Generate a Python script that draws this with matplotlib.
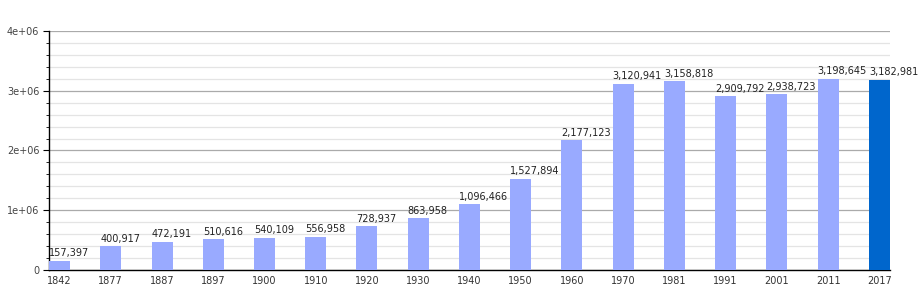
import matplotlib.pyplot as plt
from matplotlib.ticker import MultipleLocator, FuncFormatter

years = ["1842", "1877", "1887", "1897", "1900", "1910", "1920", "1930", "1940",
         "1950", "1960", "1970", "1981", "1991", "2001", "2011", "2017"]
population = [157397, 400917, 472191, 510616, 540109, 556958, 728937, 863958, 1096466,
              1527894, 2177123, 3120941, 3158818, 2909792, 2938723, 3198645, 3182981]

light = "#99aaff"
dark = "#0066cc"
colors = [light] * (len(years) - 1) + [dark]

fig = plt.figure(figsize=(9.18, 3.0), dpi=100)
ax = fig.add_axes([0.0534, 0.1, 0.916, 0.7967])

w = 0.41
x = list(range(len(years)))
ax.bar(x, population, width=w, color=colors, zorder=3)

for xi, v in zip(x, population):
    ax.text(xi - w / 2, v + 40000, f"{v:,}", ha="left", va="bottom",
            fontsize=7, color="#222222", zorder=4)

ax.set_xlim(-w / 2, len(years) - 1 + w / 2)
ax.set_ylim(0, 4e6)
ax.set_xticks(x)
ax.set_xticklabels(years)

ax.yaxis.set_major_locator(MultipleLocator(1e6))
ax.yaxis.set_minor_locator(MultipleLocator(2e5))
ax.yaxis.set_major_formatter(FuncFormatter(lambda v, p: "0" if v == 0 else f"{int(v/1e6)}e+06"))

ax.grid(axis="y", which="major", color="#aaaaaa", linewidth=0.9, zorder=0)
ax.grid(axis="y", which="minor", color="#e4e4e4", linewidth=0.9, zorder=0)

for s in ["top", "right"]:
    ax.spines[s].set_visible(False)
for s in ["left", "bottom"]:
    ax.spines[s].set_color("black")
    ax.spines[s].set_linewidth(1.0)

ax.tick_params(axis="x", length=0, labelsize=7, colors="#333333", pad=4)
ax.tick_params(axis="y", which="major", length=4, labelsize=7, labelcolor="#444444", pad=3)
ax.tick_params(axis="y", which="minor", length=2.5)

fig.savefig("out.png", dpi=100)
